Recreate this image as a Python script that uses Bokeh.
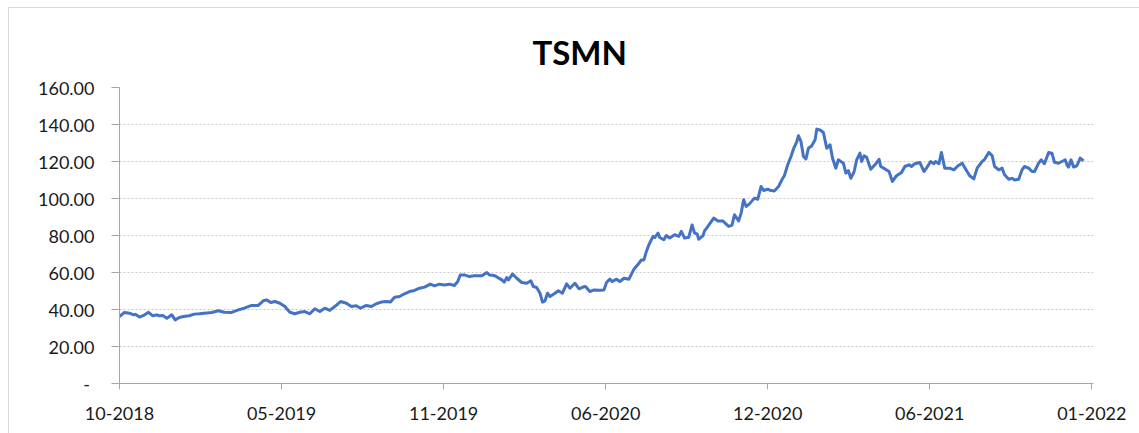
from bokeh.plotting import figure
from bokeh.models import Range1d, FixedTicker, ColumnDataSource
from bokeh.embed import file_html
from bokeh.resources import INLINE

# ---- data (days since 2018-10-26, price) ----
days = [0, 6, 12, 17, 19, 24, 29, 35, 40, 45, 48, 52, 57, 63, 67, 72, 77, 84, 90, 96,
        102, 111, 119, 126, 135, 143, 150, 159, 167, 173, 177, 182, 187, 193, 199, 205, 211, 217, 223, 229,
        235, 241, 247, 253, 259, 266, 273, 279, 285, 290, 297, 303, 309, 315, 321, 326, 331, 337, 343, 349,
        355, 361, 367, 374, 379, 385, 391, 397, 403, 407, 410, 415, 421, 427, 436, 442, 445, 451, 460, 463,
        466, 468, 473, 478, 484, 490, 495, 498, 502, 506, 509, 512, 515, 518, 524, 528, 533, 538, 542, 548,
        553, 559, 561, 566, 571, 578, 583, 586, 590, 593, 598, 602, 607, 613, 619, 625, 628, 631, 634, 637,
        642, 644, 648, 650, 655, 658, 662, 668, 673, 676, 680, 685, 689, 692, 695, 697, 702, 704, 708, 715,
        720, 726, 728, 733, 737, 740, 745, 748, 751, 754, 758, 764, 768, 772, 775, 780, 784, 788, 793, 797,
        800, 804, 808, 811, 815, 817, 820, 823, 826, 829, 833, 837, 839, 843, 847, 851, 855, 858, 862, 865,
        871, 874, 877, 880, 884, 887, 891, 893, 896, 899, 904, 909, 914, 916, 921, 926, 930, 935, 941, 945,
        950, 953, 957, 963, 968, 971, 976, 980, 982, 986, 989, 993, 999, 1004, 1009, 1014, 1017, 1023, 1028, 1032,
        1038, 1041, 1046, 1050, 1053, 1058, 1062, 1065, 1070, 1074, 1077, 1082, 1086, 1089, 1094, 1098, 1101, 1106, 1109, 1113,
        1118, 1122, 1125, 1130, 1134, 1138, 1140, 1142, 1145, 1148, 1152, 1156, 1160]
price = [36.2, 38.4, 38.0, 37.1, 37.4, 35.9, 36.8, 38.5, 36.6, 37.1, 36.6, 36.8, 35.3, 37.1, 34.4, 35.7, 36.2, 36.6, 37.5, 37.7,
         38.0, 38.4, 39.3, 38.5, 38.4, 39.8, 40.7, 42.2, 42.2, 44.7, 45.2, 43.8, 44.3, 43.4, 41.6, 38.5, 37.7, 38.5, 38.9, 37.7,
         40.4, 38.9, 40.7, 39.5, 41.6, 44.3, 43.4, 41.6, 42.0, 40.7, 42.2, 41.6, 43.1, 44.0, 44.3, 44.0, 46.6, 47.0, 48.5, 49.7,
         50.3, 51.5, 52.1, 53.7, 52.8, 53.7, 53.3, 53.7, 53.0, 55.1, 58.7, 58.7, 57.8, 58.2, 58.2, 60.0, 58.7, 58.4, 56.0, 54.8,
         57.3, 56.0, 59.2, 56.9, 54.6, 54.2, 55.5, 52.4, 51.9, 48.8, 44.0, 44.7, 48.8, 47.0, 48.8, 50.1, 48.8, 53.9, 51.5, 54.2,
         51.2, 52.4, 52.3, 49.7, 50.6, 50.4, 50.6, 54.6, 56.4, 55.1, 56.4, 55.1, 56.9, 56.4, 61.8, 65.0, 66.8, 66.8, 71.4, 75.0,
         79.5, 78.9, 81.3, 78.9, 77.7, 80.0, 78.6, 80.4, 79.5, 82.2, 78.6, 79.1, 85.7, 81.3, 80.9, 78.0, 79.8, 82.5, 84.9, 89.4,
         87.9, 87.9, 87.0, 84.9, 85.6, 91.2, 87.9, 92.1, 99.3, 95.7, 97.1, 100.2, 99.6, 106.5, 104.3, 105.0, 104.3, 104.1, 106.5, 110.1,
         112.3, 118.2, 122.7, 126.8, 130.8, 133.9, 130.8, 122.7, 121.4, 127.2, 128.5, 131.7, 137.5, 137.0, 135.7, 127.2, 129.0, 121.8, 116.4, 120.9,
         119.1, 113.7, 115.1, 110.9, 114.6, 120.9, 124.5, 120.0, 123.1, 122.3, 115.8, 118.2, 121.2, 117.3, 116.0, 114.6, 109.2, 112.3, 114.1, 117.3,
         118.2, 117.3, 118.8, 119.5, 114.6, 116.4, 120.0, 118.8, 120.0, 118.8, 124.9, 116.4, 116.4, 115.5, 117.7, 119.1, 116.8, 112.3, 110.6, 116.4,
         120.0, 121.2, 124.9, 123.2, 117.3, 115.5, 116.4, 112.8, 110.4, 110.9, 110.0, 110.4, 115.5, 117.3, 116.4, 114.6, 114.6, 119.1, 120.9, 118.8,
         124.9, 124.5, 119.6, 119.1, 120.0, 120.9, 118.2, 117.0, 120.9, 117.0, 117.7, 121.8, 120.4]

x_tick_days = [0, 195, 390, 585, 780, 975, 1170]
x_tick_labels = ["10-2018", "05-2019", "11-2019", "06-2020", "12-2020", "06-2021", "01-2022"]
y_ticks = [0, 20, 40, 60, 80, 100, 120, 140, 160]
y_tick_labels = ["-\u00a0", "20.00", "40.00", "60.00", "80.00", "100.00", "120.00", "140.00", "160.00"]

source = ColumnDataSource(data=dict(day=days, price=price))

FONT = "Lato"
p = figure(width=1131, height=426, output_backend="svg", toolbar_location=None,
           x_range=Range1d(0, 1172), y_range=Range1d(0, 160), title="TSMN",
           min_border_left=110, min_border_right=47, min_border_top=79, min_border_bottom=51)
p.styles = {"margin-left": "8px", "margin-top": "7px",
            "border-top": "1px solid #d9d9d9", "border-left": "1px solid #d9d9d9"}
p.outline_line_color = None
p.background_fill_color = "white"
p.border_fill_color = "white"

p.title.align = "left"
p.title.offset = 413
p.title.standoff = 32
p.title.text_font = FONT
p.title.text_font_size = "33px"
p.title.text_font_style = "bold"
p.title.text_color = "#000000"

p.line("day", "price", source=source, line_color="#4472C4", line_width=3, line_join="round")

p.xaxis.ticker = FixedTicker(ticks=x_tick_days)
p.xaxis.major_label_overrides = dict(zip(x_tick_days, x_tick_labels))
p.yaxis.ticker = FixedTicker(ticks=y_ticks)
p.yaxis.major_label_overrides = dict(zip(y_ticks, y_tick_labels))

for ax in (p.xaxis, p.yaxis):
    ax.axis_line_color = "#a6a6a6"
    ax.major_tick_line_color = "#a6a6a6"
    ax.minor_tick_line_color = None
    ax.major_tick_in = 0
    ax.major_label_text_font = FONT
    ax.major_label_text_font_size = "18px"
    ax.major_label_text_color = "#1a1a1a"
p.xaxis.major_tick_out = 6
p.yaxis.major_tick_out = 8
p.xaxis.major_label_standoff = 17
p.yaxis.major_label_standoff = 17

p.xgrid.visible = False
p.ygrid.grid_line_color = "#c8c8c8"
p.ygrid.grid_line_dash = "2 2"
p.ygrid.grid_line_width = 1

open("out.html", "w").write(file_html(p, INLINE))
